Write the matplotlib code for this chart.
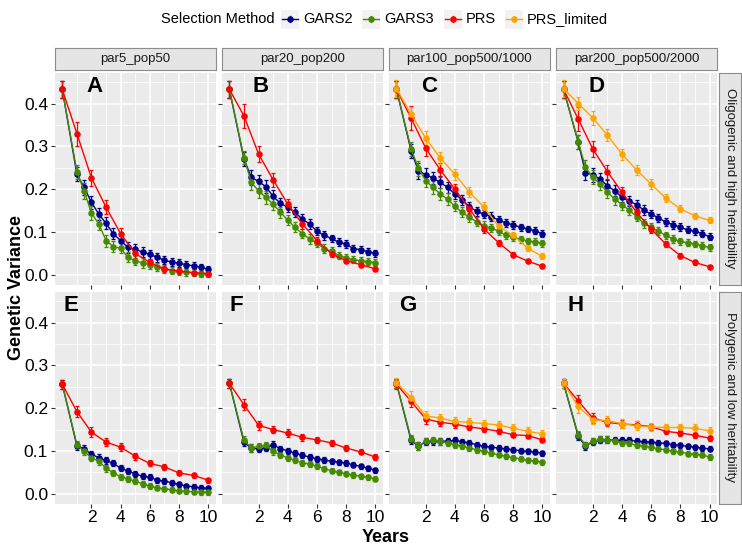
import matplotlib
matplotlib.use("Agg")
import matplotlib.pyplot as plt
from matplotlib.lines import Line2D
from matplotlib.patches import Rectangle

plt.rcParams['font.family'] = ['Liberation Sans', 'DejaVu Sans']

# x positions (years)
years_prs = [0, 1, 2, 3, 4, 5, 6, 7, 8, 9, 10]
years_gars = [0, 1, 1.5, 2, 2.5, 3, 3.5, 4, 4.5, 5, 5.5, 6, 6.5, 7, 7.5, 8, 8.5, 9, 9.5, 10]

methods = ['GARS2', 'GARS3', 'PRS', 'PRS_limited']
colors = {'GARS2': '#00008B', 'GARS3': '#458B00', 'PRS': '#FF0000', 'PRS_limited': '#FFA500'}

col_labels = ['par5_pop50', 'par20_pop200', 'par100_pop500/1000', 'par200_pop500/2000']
row_labels = ['Oligogenic and high heritability', 'Polygenic and low heritability']
panel_letters = ['A', 'B', 'C', 'D', 'E', 'F', 'G', 'H']

# ---- top row (oligogenic, high heritability) ----
gars2_a = [0.433, 0.235, 0.204, 0.169, 0.142, 0.120, 0.096, 0.080, 0.064, 0.060,
           0.053, 0.048, 0.041, 0.034, 0.030, 0.027, 0.024, 0.021, 0.018, 0.013]
gars3_a = [0.433, 0.241, 0.196, 0.144, 0.119, 0.080, 0.066, 0.062, 0.041, 0.033,
           0.028, 0.024, 0.018, 0.014, 0.010, 0.008, 0.006, 0.005, 0.003, 0.003]
prs_a = [0.433, 0.330, 0.226, 0.158, 0.096, 0.050, 0.029, 0.014, 0.009, 0.005, 0.003]

gars2_b = [0.433, 0.270, 0.228, 0.218, 0.206, 0.183, 0.167, 0.158, 0.146, 0.130,
           0.119, 0.102, 0.092, 0.085, 0.076, 0.072, 0.061, 0.059, 0.054, 0.050]
gars3_b = [0.433, 0.274, 0.216, 0.196, 0.181, 0.165, 0.146, 0.128, 0.111, 0.096,
           0.084, 0.074, 0.061, 0.055, 0.045, 0.040, 0.035, 0.033, 0.031, 0.028]
prs_b = [0.433, 0.371, 0.282, 0.222, 0.165, 0.119, 0.080, 0.049, 0.033, 0.024, 0.014]

gars2_c = [0.433, 0.290, 0.243, 0.234, 0.226, 0.216, 0.204, 0.189, 0.175, 0.159,
           0.148, 0.142, 0.136, 0.128, 0.121, 0.117, 0.111, 0.107, 0.103, 0.096]
gars3_c = [0.433, 0.294, 0.249, 0.220, 0.204, 0.189, 0.177, 0.160, 0.146, 0.134,
           0.124, 0.115, 0.109, 0.102, 0.092, 0.088, 0.083, 0.079, 0.077, 0.074]
prs_c = [0.433, 0.366, 0.296, 0.245, 0.200, 0.154, 0.107, 0.075, 0.047, 0.032, 0.020]
prs_lim_c = [0.435, 0.375, 0.319, 0.273, 0.235, 0.193, 0.158, 0.113, 0.092, 0.062, 0.043]

gars2_d = [0.433, 0.310, 0.239, 0.233, 0.224, 0.208, 0.196, 0.181, 0.172, 0.164,
           0.151, 0.142, 0.133, 0.123, 0.117, 0.111, 0.105, 0.102, 0.096, 0.089]
gars3_d = [0.433, 0.311, 0.251, 0.228, 0.212, 0.193, 0.177, 0.164, 0.151, 0.136,
           0.120, 0.111, 0.102, 0.092, 0.084, 0.078, 0.075, 0.072, 0.068, 0.064]
prs_d = [0.433, 0.364, 0.294, 0.241, 0.193, 0.146, 0.107, 0.072, 0.045, 0.029, 0.019]
prs_lim_d = [0.435, 0.400, 0.367, 0.326, 0.282, 0.245, 0.212, 0.179, 0.154, 0.138, 0.127]

# ---- bottom row (polygenic, low heritability) ----
gars2_e = [0.256, 0.112, 0.105, 0.093, 0.084, 0.078, 0.071, 0.060, 0.053, 0.047,
           0.041, 0.039, 0.032, 0.030, 0.026, 0.022, 0.018, 0.017, 0.014, 0.013]
gars3_e = [0.256, 0.115, 0.099, 0.084, 0.076, 0.060, 0.049, 0.040, 0.035, 0.029,
           0.024, 0.018, 0.014, 0.012, 0.010, 0.007, 0.006, 0.005, 0.004, 0.004]
prs_e = [0.256, 0.192, 0.144, 0.121, 0.109, 0.088, 0.071, 0.063, 0.049, 0.043, 0.032]

gars2_f = [0.258, 0.120, 0.107, 0.105, 0.107, 0.115, 0.105, 0.101, 0.095, 0.090,
           0.086, 0.082, 0.079, 0.076, 0.074, 0.072, 0.068, 0.064, 0.060, 0.055]
gars3_f = [0.258, 0.125, 0.107, 0.111, 0.113, 0.099, 0.091, 0.084, 0.078, 0.072,
           0.070, 0.064, 0.059, 0.054, 0.050, 0.047, 0.044, 0.041, 0.039, 0.035]
prs_f = [0.258, 0.208, 0.160, 0.150, 0.142, 0.132, 0.126, 0.119, 0.107, 0.098, 0.086]

gars2_g = [0.258, 0.125, 0.111, 0.122, 0.123, 0.123, 0.123, 0.125, 0.122, 0.119,
           0.115, 0.111, 0.109, 0.107, 0.105, 0.103, 0.101, 0.099, 0.098, 0.095]
gars3_g = [0.258, 0.129, 0.111, 0.123, 0.125, 0.123, 0.119, 0.115, 0.111, 0.107,
           0.103, 0.099, 0.095, 0.091, 0.088, 0.084, 0.082, 0.078, 0.077, 0.074]
prs_g = [0.256, 0.216, 0.175, 0.167, 0.163, 0.156, 0.152, 0.146, 0.138, 0.136, 0.126]
prs_lim_g = [0.260, 0.225, 0.182, 0.177, 0.169, 0.167, 0.164, 0.161, 0.153, 0.146, 0.140]

gars2_h = [0.258, 0.135, 0.111, 0.122, 0.126, 0.126, 0.125, 0.125, 0.125, 0.123,
           0.122, 0.121, 0.119, 0.118, 0.115, 0.113, 0.111, 0.109, 0.107, 0.105]
gars3_h = [0.258, 0.138, 0.113, 0.123, 0.127, 0.126, 0.123, 0.119, 0.118, 0.113,
           0.111, 0.109, 0.105, 0.103, 0.099, 0.098, 0.094, 0.092, 0.091, 0.086]
prs_h = [0.258, 0.217, 0.177, 0.167, 0.163, 0.161, 0.157, 0.146, 0.142, 0.137, 0.130]
prs_lim_h = [0.258, 0.204, 0.173, 0.171, 0.164, 0.159, 0.156, 0.155, 0.155, 0.153, 0.147]

# ---- error bar half widths (read per row, per method) ----
err_gars_top = [0.020, 0.016, 0.018, 0.016, 0.015, 0.014, 0.013, 0.012, 0.012, 0.011,
                0.011, 0.010, 0.010, 0.009, 0.009, 0.009, 0.008, 0.008, 0.008, 0.008]
err_prs_top = [0.020, 0.028, 0.018, 0.016, 0.013, 0.011, 0.009, 0.007, 0.006, 0.005, 0.005]
err_lim_top = [0.020, 0.016, 0.016, 0.014, 0.013, 0.012, 0.011, 0.009, 0.008, 0.007, 0.007]
err_gars_bot = [0.010, 0.009, 0.009, 0.008, 0.008, 0.008, 0.007, 0.007, 0.007, 0.007,
                0.007, 0.007, 0.006, 0.006, 0.006, 0.006, 0.006, 0.006, 0.006, 0.006]
err_prs_bot = [0.010, 0.013, 0.011, 0.009, 0.010, 0.008, 0.007, 0.007, 0.006, 0.006, 0.006]
err_lim_bot = [0.010, 0.015, 0.011, 0.010, 0.010, 0.010, 0.009, 0.009, 0.009, 0.009, 0.009]

panels = [
    {'GARS2': gars2_a, 'GARS3': gars3_a, 'PRS': prs_a},
    {'GARS2': gars2_b, 'GARS3': gars3_b, 'PRS': prs_b},
    {'GARS2': gars2_c, 'GARS3': gars3_c, 'PRS': prs_c, 'PRS_limited': prs_lim_c},
    {'GARS2': gars2_d, 'GARS3': gars3_d, 'PRS': prs_d, 'PRS_limited': prs_lim_d},
    {'GARS2': gars2_e, 'GARS3': gars3_e, 'PRS': prs_e},
    {'GARS2': gars2_f, 'GARS3': gars3_f, 'PRS': prs_f},
    {'GARS2': gars2_g, 'GARS3': gars3_g, 'PRS': prs_g, 'PRS_limited': prs_lim_g},
    {'GARS2': gars2_h, 'GARS3': gars3_h, 'PRS': prs_h, 'PRS_limited': prs_lim_h},
]
row_errors = [
    {'GARS2': err_gars_top, 'GARS3': err_gars_top, 'PRS': err_prs_top, 'PRS_limited': err_lim_top},
    {'GARS2': err_gars_bot, 'GARS3': err_gars_bot, 'PRS': err_prs_bot, 'PRS_limited': err_lim_bot},
]

W, H = 742, 547
fig = plt.figure(figsize=(W / 100, H / 100), dpi=100)

# layout in pixels (from top-left)
left0, pw, gap = 55, 160.5, 6.6
row_tops = [72.5, 291.5]
ph = 212
letter_x = [0.245, 0.24, 0.25, 0.25, 0.097, 0.091, 0.117, 0.117]


def fig_rect(x, y, w, h):
    return [x / W, 1 - (y + h) / H, w / W, h / H]


for i, data in enumerate(panels):
    r, c = divmod(i, 4)
    x0 = left0 + c * (pw + gap)
    y0 = row_tops[r]
    ax = fig.add_axes(fig_rect(x0, y0, pw, ph))
    ax.set_facecolor('#EBEBEB')
    for s in ax.spines.values():
        s.set_visible(False)
    ax.set_xlim(-0.5, 10.5)
    ax.set_ylim(-0.0225, 0.4725)
    ax.set_xticks([2, 4, 6, 8, 10])
    ax.set_xticks([1, 3, 5, 7, 9], minor=True)
    ax.set_yticks([0.0, 0.1, 0.2, 0.3, 0.4])
    ax.set_yticks([0.05, 0.15, 0.25, 0.35, 0.45], minor=True)
    ax.grid(which='major', color='white', lw=1.1)
    ax.grid(which='minor', color='white', lw=0.55)
    ax.set_axisbelow(True)
    ax.tick_params(which='minor', length=0)
    ax.tick_params(which='major', length=3, color='#333333', labelsize=12.5,
                   labelcolor='black', pad=2)
    if r == 0:
        ax.tick_params(labelbottom=False)
    if c != 0:
        ax.tick_params(labelleft=False)
    else:
        ax.set_yticklabels(['0.0', '0.1', '0.2', '0.3', '0.4'])

    for m in methods:
        if m not in data:
            continue
        xs = years_prs if m.startswith('PRS') else years_gars
        ax.errorbar(xs, data[m], yerr=row_errors[r][m], color=colors[m], lw=1.0,
                    marker='o', ms=3.7, elinewidth=0.9, capsize=1.6, capthick=0.9)

    ax.text(letter_x[i], 0.935, panel_letters[i], transform=ax.transAxes,
            fontsize=16, fontweight='bold', ha='center', va='center')

    # column strips
    if r == 0:
        sax = fig.add_axes(fig_rect(x0, 48, pw, 22))
        sax.set_xticks([]); sax.set_yticks([])
        sax.set_facecolor('#E5E5E5')
        for s in sax.spines.values():
            s.set_color('#8C8C8C'); s.set_linewidth(0.8)
        sax.text(0.5, 0.5, col_labels[c], ha='center', va='center', fontsize=9.5,
                 color='#1A1A1A', transform=sax.transAxes)
    # row strips
    if c == 3:
        rax = fig.add_axes(fig_rect(x0 + pw + 2.5, y0, 21.5, ph))
        rax.set_xticks([]); rax.set_yticks([])
        rax.set_facecolor('#E5E5E5')
        for s in rax.spines.values():
            s.set_color('#8C8C8C'); s.set_linewidth(0.8)
        rax.text(0.5, 0.5, row_labels[r], ha='center', va='center', fontsize=9.5,
                 rotation=-90, color='#1A1A1A', transform=rax.transAxes)

# axis titles
fig.text(17 / W, 1 - 288 / H, 'Genetic Variance', rotation=90, ha='center', va='center',
         fontsize=13, fontweight='bold')
fig.text(386 / W, 1 - 538 / H, 'Years', ha='center', va='center',
         fontsize=13, fontweight='bold')

# legend (drawn by hand to get ggplot's one-line look)
ly = 1 - 19 / H
fig.text(161 / W, ly, 'Selection Method', ha='left', va='center', fontsize=10.5)
key_centers = [290, 371, 453, 514]
for m, kc in zip(methods, key_centers):
    fig.patches.append(Rectangle(((kc - 9) / W, ly - 9.5 / H), 18 / W, 19 / H,
                                 transform=fig.transFigure, facecolor='#F2F2F2',
                                 edgecolor='none'))
    fig.lines.append(Line2D([(kc - 8) / W, (kc + 8) / W], [ly, ly], transform=fig.transFigure,
                            color=colors[m], lw=1.0))
    fig.lines.append(Line2D([kc / W], [ly], transform=fig.transFigure, color=colors[m],
                            marker='o', ms=3.7, lw=0))
    fig.lines.append(Line2D([kc / W, kc / W], [ly - 3 / H, ly + 3 / H],
                            transform=fig.transFigure, color=colors[m], lw=0.9))
    fig.text((kc + 13) / W, ly, m, ha='left', va='center', fontsize=10.5)

fig.savefig('out.png', dpi=100)
